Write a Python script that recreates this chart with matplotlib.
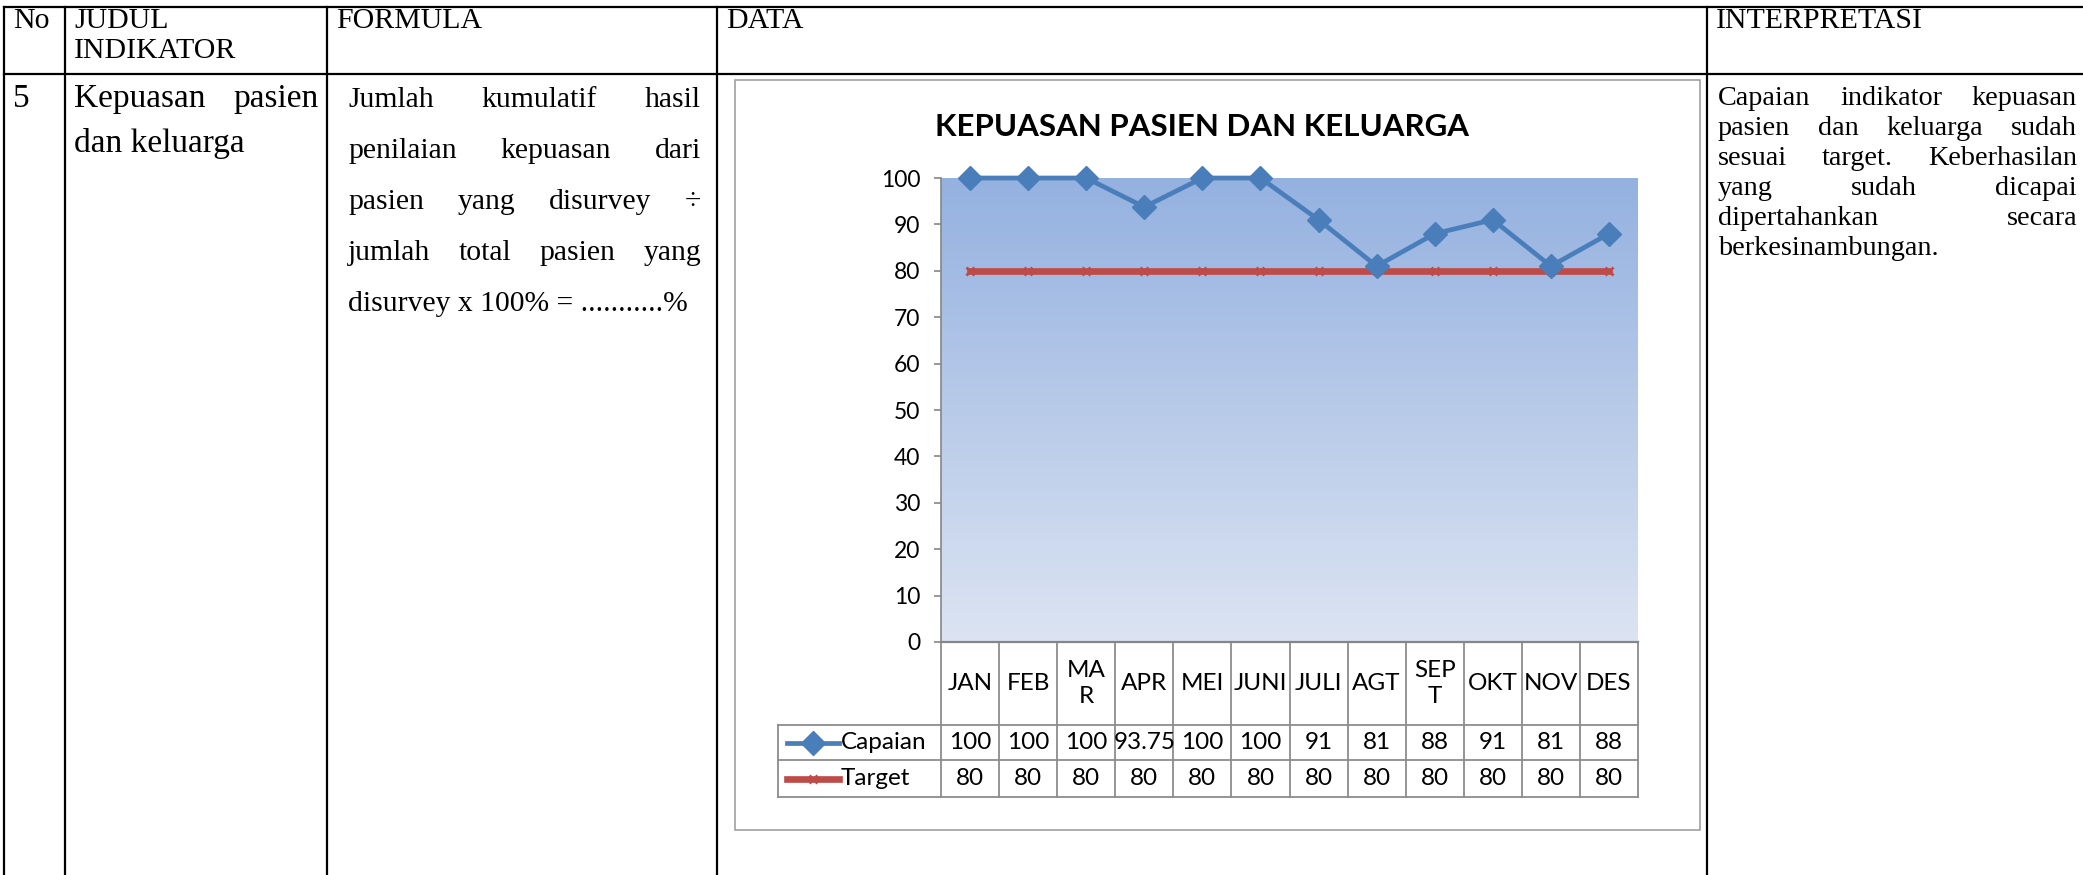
import numpy as np
import matplotlib
matplotlib.use("Agg")
import matplotlib.pyplot as plt
import matplotlib.transforms as mtransforms
from matplotlib.colors import LinearSegmentedColormap

months = ["JAN", "FEB", "MA\nR", "APR", "MEI", "JUNI", "JULI", "AGT", "SEP\nT", "OKT", "NOV", "DES"]
capaian = [100, 100, 100, 93.75, 100, 100, 91, 81, 88, 91, 81, 88]
target = [80, 80, 80, 80, 80, 80, 80, 80, 80, 80, 80, 80]
capaian_labels = ["100", "100", "100", "93.75", "100", "100", "91", "81", "88", "91", "81", "88"]
yticks = [0, 10, 20, 30, 40, 50, 60, 70, 80, 90, 100]

headers = ["No", "JUDUL\nINDIKATOR", "FORMULA", "DATA", "INTERPRETASI"]
judul_lines = ["Kepuasan pasien", "dan keluarga"]
formula_lines = ["Jumlah kumulatif hasil", "penilaian kepuasan dari",
                 "pasien yang disurvey \u00f7", "jumlah total pasien yang",
                 "disurvey x 100% = ...........%"]
interp_lines = ["Capaian indikator kepuasan", "pasien dan keluarga  sudah",
                "sesuai target. Keberhasilan", "yang sudah dicapai",
                "dipertahankan secara", "berkesinambungan."]

W, H = 2083, 875
BLUE = "#4A7EBB"
RED = "#BE4B48"
SERIF = "Liberation Serif"
CHART_FONT = "Lato"

fig = plt.figure(figsize=(W / 100, H / 100), dpi=100)
bg = fig.add_axes([0, 0, 1, 1])
bg.set_xlim(0, W)
bg.set_ylim(H, 0)
bg.axis("off")
renderer = fig.canvas.get_renderer()

# document table lines
col_x = [4, 65, 327, 717, 1707]
bg.plot([4, W], [7, 7], color="black", lw=1.6)
bg.plot([4, W], [74, 74], color="black", lw=1.6)
for x in col_x:
    bg.plot([x, x], [7, H], color="black", lw=1.6)

# header texts
for x, txt in zip(col_x, headers):
    bg.text(x + 9, 8, txt, family=SERIF, fontsize=21.5, va="top", ha="left",
            linespacing=1.18)


def put_line(text, x0, x1, y, size, justify=True):
    words = text.split()
    if not justify or len(words) < 2:
        bg.text(x0, y, text, family=SERIF, fontsize=size, va="baseline", ha="left")
        return
    objs = [bg.text(0, y, w, family=SERIF, fontsize=size, va="baseline", ha="left")
            for w in words]
    widths = [o.get_window_extent(renderer).width for o in objs]
    gap = (x1 - x0 - sum(widths)) / (len(words) - 1)
    x = x0
    for o, w in zip(objs, widths):
        o.set_x(x)
        x += w + gap


bg.text(col_x[0] + 9, 107, "5", family=SERIF, fontsize=24, va="baseline", ha="left")
for i, line in enumerate(judul_lines):
    put_line(line, 74, 319, 107 + i * 45, 24, justify=(i < len(judul_lines) - 1))
for i, line in enumerate(formula_lines):
    put_line(line, 348, 701, 107 + i * 51, 21.3, justify=(i < len(formula_lines) - 1))
for i, line in enumerate(interp_lines):
    put_line(line, 1718, 2077, 105 + i * 30, 20.3, justify=(i < len(interp_lines) - 1))

# chart frame
bg.add_patch(plt.Rectangle((735, 80), 965, 750, fill=False, edgecolor="#A0A0A0", lw=1.2))
bg.text(1202, 127, "KEPUASAN PASIEN DAN KELUARGA", family=CHART_FONT, fontsize=22.5,
        fontweight="bold", ha="center", va="center")

# plot area
px0, px1, py0, py1 = 941, 1638, 178, 642
ax = fig.add_axes([px0 / W, 1 - py1 / H, (px1 - px0) / W, (py1 - py0) / H])
x = np.arange(len(months))
ax.set_xlim(-0.5, len(months) - 0.5)
ax.set_ylim(0, 100)

grad = LinearSegmentedColormap.from_list("g", ["#DCE4F2", "#94B1E0"])
ax.imshow(np.linspace(0, 1, 256).reshape(-1, 1), cmap=grad, origin="lower",
          extent=[-0.5, len(months) - 0.5, 0, 100], aspect="auto", zorder=0)

ax.plot(x, target, color=RED, lw=4.8, marker="x", markersize=6, mew=2,
        zorder=3, clip_on=False)
ax.plot(x, capaian, color=BLUE, lw=3.4, marker="D", markersize=12,
        zorder=4, clip_on=False)

for s in ["top", "right"]:
    ax.spines[s].set_visible(False)
ax.spines["left"].set_color("#868686")
ax.spines["bottom"].set_color("#868686")
ax.spines["left"].set_linewidth(1.2)
ax.spines["bottom"].set_linewidth(1.6)
ax.set_yticks(yticks)
ax.set_xticks([])
ax.tick_params(axis="y", direction="out", length=5, width=1.2, color="#868686",
               pad=10, labelsize=16.5)
for lab in ax.get_yticklabels():
    lab.set_family(CHART_FONT)

# data table under the chart
tr = mtransforms.blended_transform_factory(ax.transData, ax.transAxes)
ph = py1 - py0
y1 = -83 / ph
y2 = -118 / ph
y3 = -155 / ph
leg_left = -0.5 - (px0 - 778) / ((px1 - px0) / len(months))
gcol = "#8C8C8C"
for i in range(len(months) + 1):
    ax.plot([i - 0.5, i - 0.5], [0, y3], color=gcol, lw=1.3, transform=tr, clip_on=False)
ax.plot([leg_left, leg_left], [y1, y3], color=gcol, lw=1.3, transform=tr, clip_on=False)
for yy in [y1, y2, y3]:
    ax.plot([leg_left, len(months) - 0.5], [yy, yy], color=gcol, lw=1.3,
            transform=tr, clip_on=False)

fs = 17.5
for i, m in enumerate(months):
    ax.text(i, y1 / 2, m, transform=tr, ha="center", va="center", fontsize=fs,
            family=CHART_FONT, linespacing=1.35)
    ax.text(i, (y1 + y2) / 2, capaian_labels[i], transform=tr, ha="center",
            va="center", fontsize=fs, family=CHART_FONT)
    ax.text(i, (y2 + y3) / 2, str(target[i]), transform=tr, ha="center",
            va="center", fontsize=fs, family=CHART_FONT)

lx0, lx1 = leg_left + 0.15, leg_left + 1.05
ax.plot([lx0, lx1], [(y1 + y2) / 2] * 2, color=BLUE, lw=3.4, transform=tr, clip_on=False)
ax.plot([(lx0 + lx1) / 2], [(y1 + y2) / 2], color=BLUE, marker="D", markersize=12,
        transform=tr, clip_on=False)
ax.plot([lx0, lx1], [(y2 + y3) / 2] * 2, color=RED, lw=4.8, transform=tr, clip_on=False)
ax.plot([(lx0 + lx1) / 2], [(y2 + y3) / 2], color=RED, marker="x", markersize=6, mew=2,
        transform=tr, clip_on=False)
ax.text(lx1 + 0.03, (y1 + y2) / 2, "Capaian", transform=tr, ha="left", va="center",
        fontsize=fs, family=CHART_FONT)
ax.text(lx1 + 0.03, (y2 + y3) / 2, "Target", transform=tr, ha="left", va="center",
        fontsize=fs, family=CHART_FONT)

fig.savefig("out.png", dpi=100)
